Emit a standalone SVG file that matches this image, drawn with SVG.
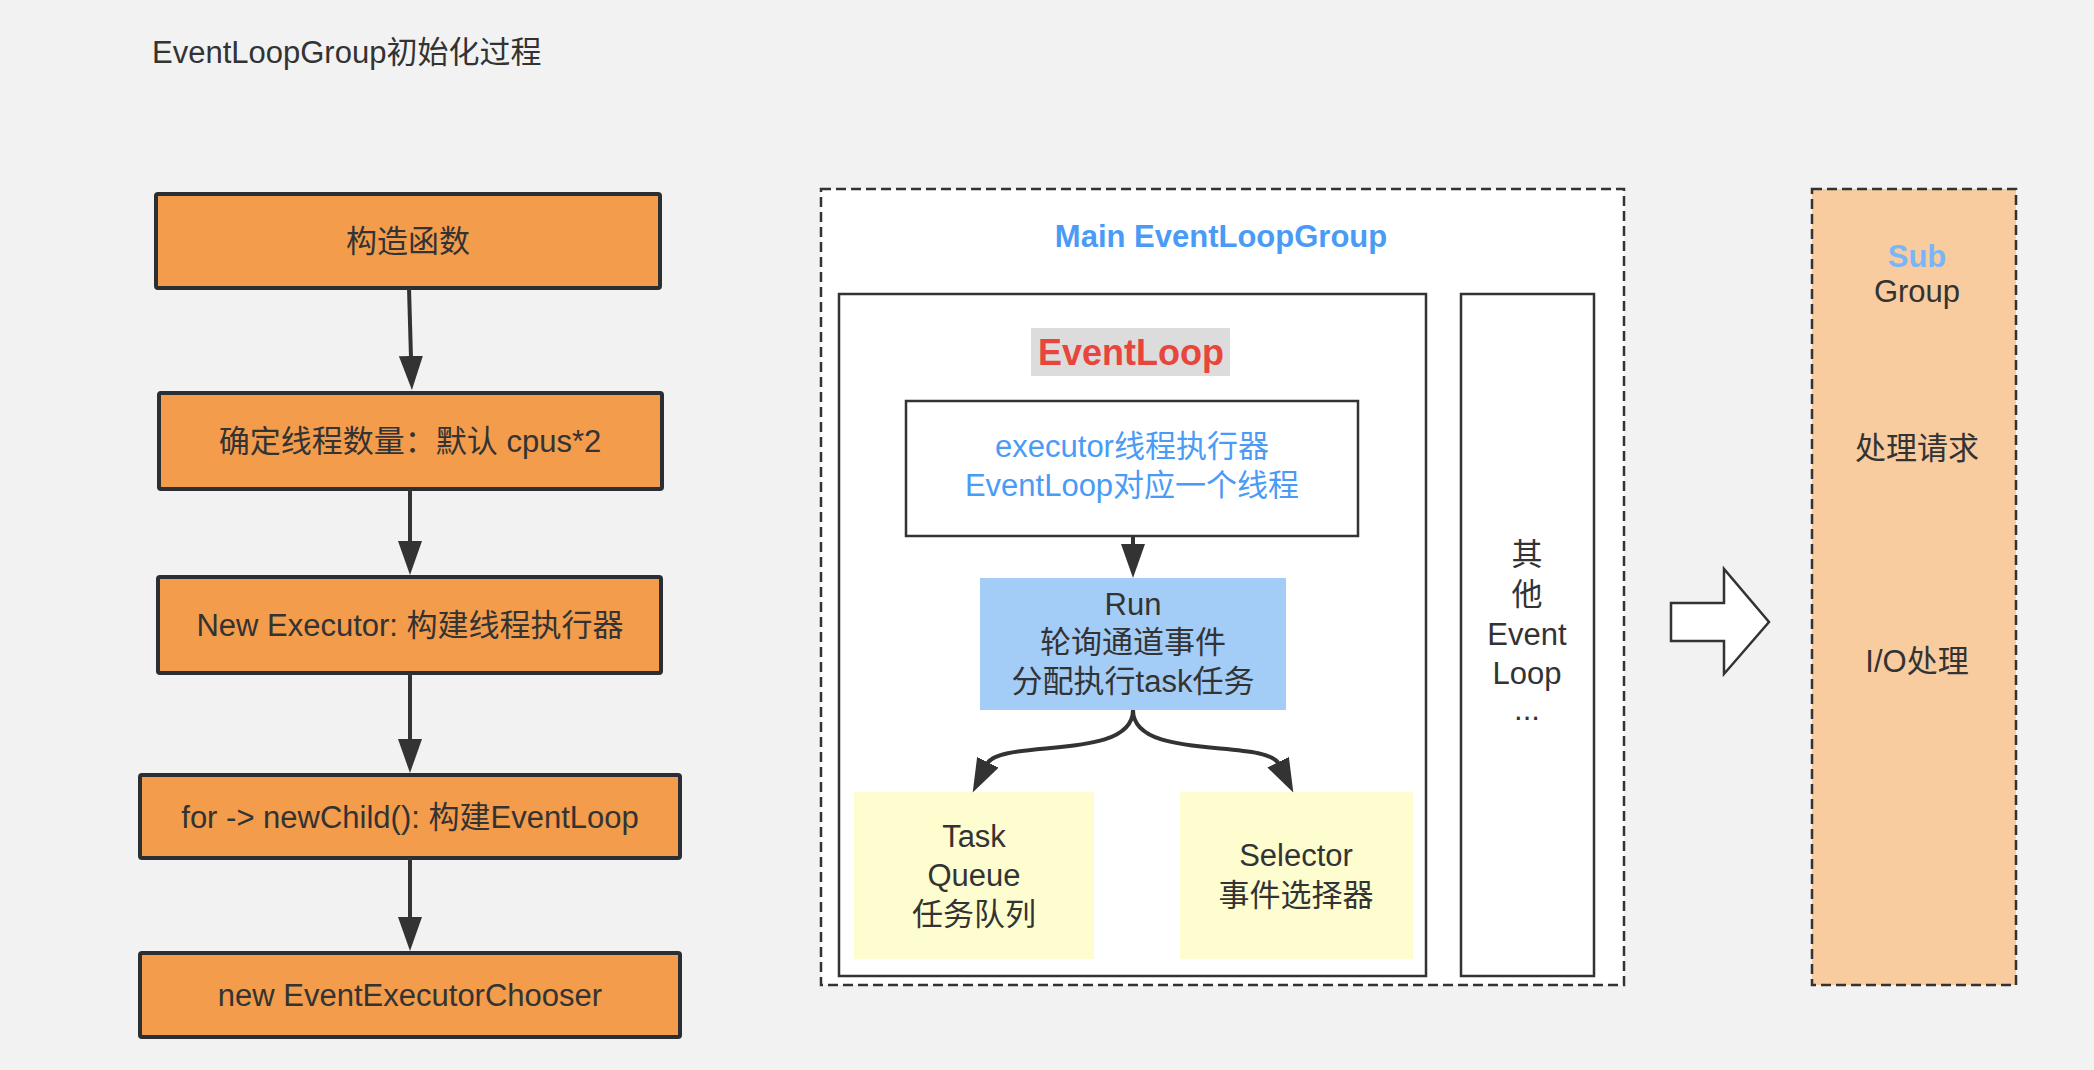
<svg xmlns="http://www.w3.org/2000/svg" width="2094" height="1070" viewBox="0 0 2094 1070">
<style>
  text { font-family: "Liberation Sans", "Noto Sans CJK SC", sans-serif; fill: #333333; dominant-baseline: central; }
  .t { font-size: 31px; text-anchor: middle; }
  .step { fill: #f29c4c; stroke: #2b2f33; stroke-width: 4; }
  .solid { fill: #ffffff; stroke: #333333; stroke-width: 2.5; }
  .dash { stroke: #333333; stroke-width: 2.5; stroke-dasharray: 10 5; }
  .blue { fill: #4a9bf5; }
  .conn { fill: none; stroke: #333333; stroke-width: 4; }
</style>
<defs>
  <marker id="ah" markerUnits="userSpaceOnUse" markerWidth="34" markerHeight="24" viewBox="0 0 34 24" refX="2" refY="12" orient="auto">
    <path d="M0,0 L34,12 L0,24 z" fill="#333333"/>
  </marker>
</defs>
<rect x="0" y="0" width="2094" height="1070" fill="#f2f2f2"/>

<text id="title" x="152" y="52" style="font-size:31px">EventLoopGroup初始化过程</text>

<g id="step1"><rect class="step" x="156" y="194" width="504" height="94" rx="2"/><text class="t" x="408" y="241">构造函数</text></g>
<g id="step2"><rect class="step" x="159" y="393" width="503" height="96" rx="2"/><text class="t" x="410" y="441">确定线程数量：默认 cpus*2</text></g>
<g id="step3"><rect class="step" x="158" y="577" width="503" height="96" rx="2"/><text class="t" x="410" y="625">New Executor: 构建线程执行器</text></g>
<g id="step4"><rect class="step" x="140" y="775" width="540" height="83" rx="2"/><text class="t" x="410" y="817">for -&gt; newChild(): 构建EventLoop</text></g>
<g id="step5"><rect class="step" x="140" y="953" width="540" height="84" rx="2"/><text class="t" x="410" y="995">new EventExecutorChooser</text></g>

<g id="mainGroup">
  <rect class="dash" x="821" y="189" width="803" height="796" fill="#ffffff"/>
  <text class="t blue" x="1221" y="236" style="font-weight:bold">Main EventLoopGroup</text>
</g>
<g id="eventLoop">
  <rect class="solid" x="839" y="294" width="587" height="682"/>
  <rect x="1031" y="328" width="199" height="48" fill="#dcdcdc"/>
  <text x="1131" y="352" style="font-size:36px;font-weight:bold;text-anchor:middle;fill:#e8453c">EventLoop</text>
</g>
<g id="executor">
  <rect class="solid" x="906" y="401" width="452" height="135"/>
  <text class="t blue" x="1132" y="446">executor线程执行器</text>
  <text class="t blue" x="1132" y="485">EventLoop对应一个线程</text>
</g>
<g id="run">
  <rect x="980" y="578" width="306" height="132" fill="#a3ccf7"/>
  <text class="t" x="1133" y="604">Run</text>
  <text class="t" x="1133" y="642">轮询通道事件</text>
  <text class="t" x="1133" y="681">分配执行task任务</text>
</g>
<g id="taskQueue">
  <rect x="854" y="792" width="240" height="167" fill="#fefdd0"/>
  <text class="t" x="974" y="836">Task</text>
  <text class="t" x="974" y="875">Queue</text>
  <text class="t" x="974" y="914">任务队列</text>
</g>
<g id="selector">
  <rect x="1180" y="792" width="233" height="167" fill="#fefdd0"/>
  <text class="t" x="1296" y="855">Selector</text>
  <text class="t" x="1296" y="895">事件选择器</text>
</g>
<g id="otherLoops">
  <rect class="solid" x="1461" y="294" width="133" height="682"/>
  <text class="t" x="1527" y="554">其</text>
  <text class="t" x="1527" y="594">他</text>
  <text class="t" x="1527" y="634">Event</text>
  <text class="t" x="1527" y="673">Loop</text>
  <text class="t" x="1527" y="709">...</text>
</g>

<g id="bigArrow">
  <polygon points="1671,603 1724,603 1724,569 1769,622 1724,674 1724,641 1671,641" fill="#ffffff" stroke="#333333" stroke-width="2.5" stroke-linejoin="miter"/>
</g>

<g id="subGroup">
  <rect class="dash" x="1812" y="189" width="204" height="796" fill="#f8cc9f"/>
  <text class="t" x="1917" y="256" style="font-weight:bold;fill:#7ab6f7">Sub</text>
  <text class="t" x="1917" y="291">Group</text>
  <text class="t" x="1917" y="448">处理请求</text>
  <text class="t" x="1917" y="661">I/O处理</text>
</g>

<g id="connectors">
  <path class="conn" d="M409,288 L411,358" marker-end="url(#ah)"/>
  <path class="conn" d="M410,489 L410,543" marker-end="url(#ah)"/>
  <path class="conn" d="M410,673 L410,741" marker-end="url(#ah)"/>
  <path class="conn" d="M410,858 L410,919" marker-end="url(#ah)"/>
  <path class="conn" d="M1133,536 L1133,546" stroke-width="3" marker-end="url(#ah)"/>
  <path class="conn" d="M1133,710 C1133,762 1000,738 987,764" marker-end="url(#ah)"/>
  <path class="conn" d="M1133,710 C1133,762 1266,738 1279,764" marker-end="url(#ah)"/>
</g>
</svg>
